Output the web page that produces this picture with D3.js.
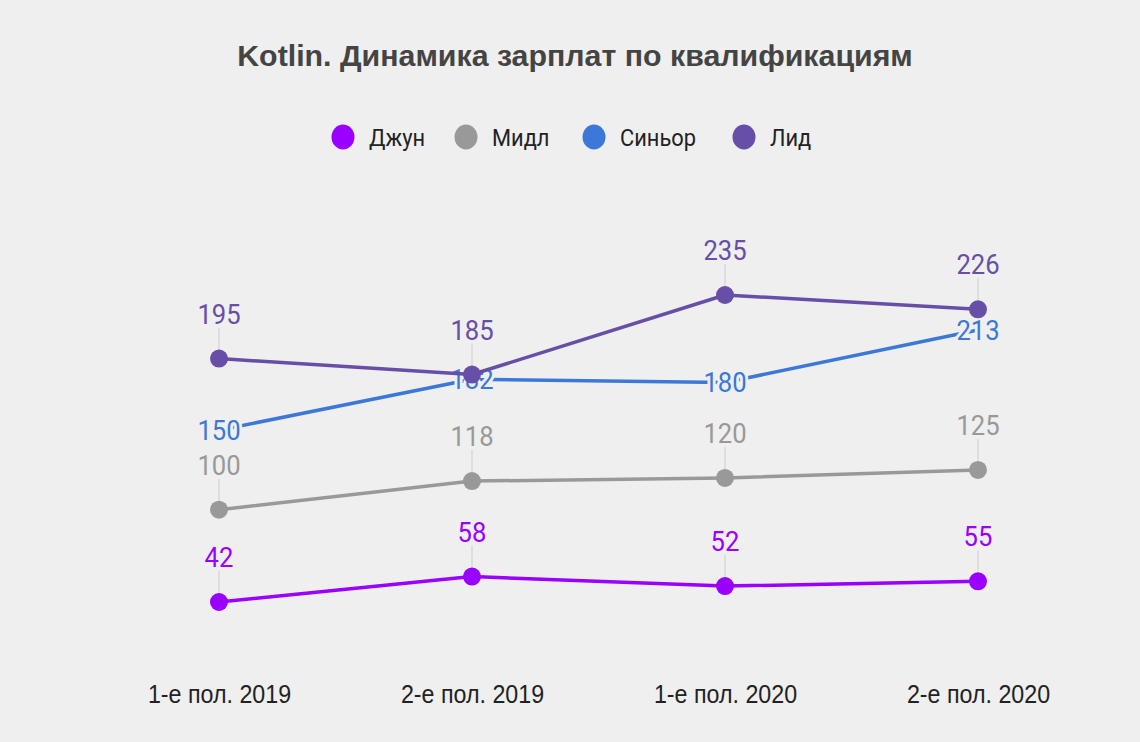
<!DOCTYPE html>
<html><head><meta charset="utf-8">
<script src="https://cdn.jsdelivr.net/npm/d3@7"></script>
<style>
html,body{margin:0;padding:0;background:#efefef;}
svg{display:block;font-family:Roboto, "Liberation Sans", Arial, sans-serif;}
</style></head>
<body>
<svg id="chart" width="1140" height="742"></svg>
<script>
const categories = ["1-е пол. 2019", "2-е пол. 2019", "1-е пол. 2020", "2-е пол. 2020"];
const seriesNames = ["Джун", "Мидл", "Синьор", "Лид"];
const seriesColors = ["#9900ff", "#999999", "#3c78d8", "#674ea7"];
const junValues = [42, 58, 52, 55];
const midValues = [100, 118, 120, 125];
const seniorValues = [150, 182, 180, 213];
const leadValues = [195, 185, 235, 226];
const title = "Kotlin. Динамика зарплат по квалификациям";

const series = [
  {name: seriesNames[0], color: seriesColors[0], values: junValues, center: false},
  {name: seriesNames[1], color: seriesColors[1], values: midValues, center: false},
  {name: seriesNames[2], color: seriesColors[2], values: seniorValues, center: true},
  {name: seriesNames[3], color: seriesColors[3], values: leadValues, center: false}
];

const SX = 0.93;
const svg = d3.select("#chart");
const bg = "#efefef";
svg.append("rect").attr("width",1140).attr("height",742).attr("fill",bg);

const x = d3.scalePoint().domain(categories).range([219, 978]);
const y = d3.scaleLinear().domain([0, 300]).range([668.8, 191.6]);

function sText(parent, px, py, sx) {
  return parent.append("g").attr("transform", `translate(${px},${py}) scale(${sx},1)`).append("text");
}

// title
const tt = sText(svg, 575, 66, 1).attr("text-anchor","middle")
  .attr("font-family", "'Liberation Sans', Arial, sans-serif")
  .attr("font-size", 29.5).attr("font-weight", "bold").attr("fill", "#444444").text(title);
const tw = tt.node().getComputedTextLength();
tt.node().parentNode.setAttribute("transform", `translate(575,66) scale(${676 / tw},1)`);

// legend
const legendX = [343, 466, 594, 744];
series.forEach((s, i) => {
  svg.append("ellipse").attr("cx", legendX[i]).attr("cy", 137).attr("rx", 11.5).attr("ry", 12.5).attr("fill", s.color);
  sText(svg, legendX[i] + 26, 145.5, SX).attr("font-size", 23.5).attr("fill", "#222222").text(s.name);
});

// x axis labels
const xAxis = d3.axisBottom(x).tickSize(0).tickPadding(0);
const ax = svg.append("g").attr("transform", "translate(0,685)").call(xAxis);
ax.select(".domain").remove();
ax.selectAll("text").attr("font-size", 25).attr("fill", "#222222")
  .attr("font-family", "'Liberation Sans', Arial, sans-serif").attr("dy", "0.72em")
  .attr("transform", `scale(${SX},1)`);

const line = d3.line().x((d, i) => x(categories[i])).y(d => y(d));

series.forEach(s => {
  const g = svg.append("g");
  g.append("path").attr("d", line(s.values)).attr("fill", "none")
    .attr("stroke", s.color).attr("stroke-width", 3.5).attr("stroke-linejoin","round");
  if (!s.center) {
    s.values.forEach((v, i) => {
      g.append("line").attr("x1", x(categories[i])).attr("x2", x(categories[i]))
        .attr("y1", y(v) - 31).attr("y2", y(v)).attr("stroke", "#d9d9d9").attr("stroke-width", 1.5);
    });
    s.values.forEach((v, i) => {
      g.append("circle").attr("cx", x(categories[i])).attr("cy", y(v)).attr("r", 9).attr("fill", s.color);
    });
  }
  s.values.forEach((v, i) => {
    const t = sText(g, x(categories[i]), s.center ? y(v) + 10 : y(v) - 35, 0.95)
      .attr("text-anchor", "middle").attr("font-size", 27).attr("fill", s.color).text(v);
    if (s.center) t.attr("stroke", bg).attr("stroke-width", 6).attr("paint-order", "stroke").attr("stroke-linejoin","round");
  });
});
</script>
</body></html>
